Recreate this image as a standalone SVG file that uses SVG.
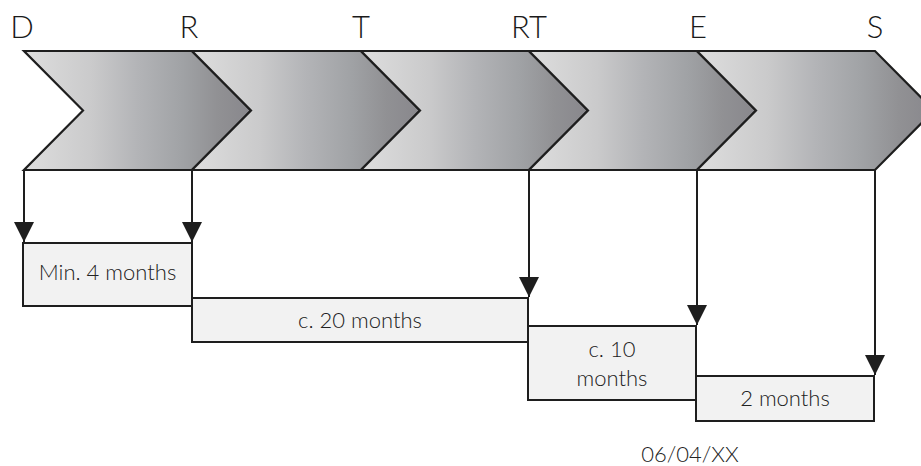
<svg xmlns="http://www.w3.org/2000/svg" width="921" height="466" viewBox="0 0 921 466">
  <style>
    .chev { fill: url(#g); stroke: #1e1e1e; stroke-width: 2.2; stroke-linejoin: miter; }
    .lbl { font-family: Lato, "Liberation Sans", sans-serif; font-weight: 300; font-size: 31px; fill: #1a1a1a; text-anchor: middle; }
    .box { fill: #f2f2f2; stroke: #1e1e1e; stroke-width: 2; }
    .bt { font-family: Lato, "Liberation Sans", sans-serif; font-weight: 300; font-size: 22px; fill: #222; text-anchor: middle; }
    .conn { stroke: #1e1e1e; stroke-width: 2; fill: none; marker-end: url(#ah); }
  </style>
  <defs>
    <linearGradient id="g" x1="0" y1="0" x2="1" y2="0">
      <stop offset="0" stop-color="#dedede"/>
      <stop offset="0.3" stop-color="#cacacb"/>
      <stop offset="0.5" stop-color="#b3b4b7"/>
      <stop offset="0.7" stop-color="#a0a2a5"/>
      <stop offset="0.85" stop-color="#919194"/>
      <stop offset="1" stop-color="#88878c"/>
    </linearGradient>
    <marker id="ah" markerUnits="userSpaceOnUse" markerWidth="20" markerHeight="20" viewBox="0 0 20 20" refX="20" refY="10" orient="auto">
      <path d="M0,0 L20,10 L0,20 z" fill="#1e1e1e"/>
    </marker>
  </defs>

  <g id="chevrons">
    <g id="node-D">
      <path class="chev" d="M24,51 L192,51 L251,110.5 L192,170 L24,170 L83,110.5 Z"/>
      <text class="lbl" x="22" y="38">D</text>
    </g>
    <g id="node-R">
      <path class="chev" d="M192,51 L361,51 L420,110.5 L361,170 L192,170 L251,110.5 Z"/>
      <text class="lbl" x="189" y="38">R</text>
    </g>
    <g id="node-T">
      <path class="chev" d="M361,51 L529,51 L588,110.5 L529,170 L361,170 L420,110.5 Z"/>
      <text class="lbl" x="361" y="38">T</text>
    </g>
    <g id="node-RT">
      <path class="chev" d="M529,51 L697,51 L756,110.5 L697,170 L529,170 L588,110.5 Z"/>
      <text class="lbl" x="529" y="38">RT</text>
    </g>
    <g id="node-E">
      <path class="chev" d="M697,51 L875,51 L934,110.5 L875,170 L697,170 L756,110.5 Z"/>
      <text class="lbl" x="698" y="38">E</text>
    </g>
    <text class="lbl" x="875" y="38">S</text>
  </g>

  <g id="connectors">
    <line class="conn" x1="24" y1="170" x2="24" y2="242"/>
    <line class="conn" x1="192" y1="170" x2="192" y2="242"/>
    <line class="conn" x1="529" y1="170" x2="529" y2="297"/>
    <line class="conn" x1="697" y1="170" x2="697" y2="325"/>
    <line class="conn" x1="875" y1="170" x2="875" y2="375"/>
  </g>

  <g id="box-min4">
    <rect class="box" x="23" y="243" width="169" height="63"/>
    <text class="bt" x="107.5" y="280">Min. 4 months</text>
  </g>
  <g id="box-c20">
    <rect class="box" x="192" y="298" width="336" height="44"/>
    <text class="bt" x="360" y="328">c. 20 months</text>
  </g>
  <g id="box-c10">
    <rect class="box" x="528" y="326" width="168" height="74"/>
    <text class="bt" x="612" y="357">c. 10</text>
    <text class="bt" x="612" y="386">months</text>
  </g>
  <g id="box-2m">
    <rect class="box" x="696" y="376" width="178" height="45"/>
    <text class="bt" x="785" y="406">2 months</text>
  </g>

  <text class="bt" x="690" y="462">06/04/XX</text>
</svg>
